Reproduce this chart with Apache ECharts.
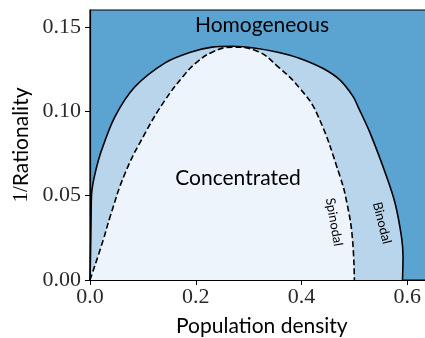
<!DOCTYPE html>
<html>
<head>
<meta charset="utf-8">
<script src="https://cdn.jsdelivr.net/npm/echarts@6/dist/echarts.min.js"></script>
<style>
  html, body { margin: 0; padding: 0; background: #ffffff; }
  #chart { width: 425px; height: 338px; }
</style>
</head>
<body>
<div id="chart"></div>
<script>
// Phase boundary: binodal curve (population density, 1/rationality)
const binodalX = [0.000, 0.001, 0.002, 0.003, 0.0095, 0.022, 0.047, 0.085, 0.142, 0.190, 0.231, 0.270,
                  0.310, 0.355, 0.397, 0.441, 0.473, 0.498, 0.507, 0.530, 0.561, 0.577, 0.589, 0.592, 0.591];
const binodalY = [0.000, 0.015, 0.035, 0.051, 0.063, 0.077, 0.0967, 0.1145, 0.1287, 0.1350, 0.1380, 0.1385,
                  0.1375, 0.1350, 0.1313, 0.1253, 0.1184, 0.1085, 0.1026, 0.0869, 0.0612, 0.0455, 0.0257, 0.0138, 0.000];

// Stability limit: spinodal curve
const spinodalX = [0.000, 0.025, 0.038, 0.066, 0.104, 0.142, 0.177, 0.200, 0.231, 0.269, 0.313, 0.357, 0.397,
                   0.429, 0.473, 0.486, 0.496, 0.500];
const spinodalY = [0.000, 0.0237, 0.0375, 0.063, 0.0869, 0.1066, 0.121, 0.1285, 0.135, 0.138, 0.136, 0.126, 0.1135,
                   0.0987, 0.0612, 0.0454, 0.0256, 0.000];

const xTicks = [0.0, 0.2, 0.4, 0.6];
const yTicks = [0.00, 0.05, 0.10, 0.15];

const colors = {
  homogeneous: '#5ba3d1',
  binodal: '#b9d5eb',
  spinodal: '#edf4fc'
};

const zip = (xs, ys) => xs.map((x, i) => [x, ys[i]]);

const chart = echarts.init(document.getElementById('chart'), null, { renderer: 'canvas' });

const serif = 'Liberation Serif';
const sans = 'Lato';

chart.setOption({
  animation: false,
  grid: {
    left: 90, top: 10, width: 343.7, height: 270,
    containLabel: false, outerBoundsMode: 'none',
    show: true, backgroundColor: colors.homogeneous,
    borderColor: '#000', borderWidth: 1.2
  },
  xAxis: {
    type: 'value', min: 0, max: 0.65,
    name: 'Population density',
    nameLocation: 'middle', nameGap: 36,
    nameTextStyle: { fontFamily: sans, fontSize: 21, color: '#000' },
    axisLine: { show: true, lineStyle: { color: '#000', width: 1.2 } },
    axisTick: { show: true, customValues: xTicks, length: 5, inside: false, lineStyle: { color: '#000', width: 1 } },
    axisLabel: {
      customValues: xTicks, margin: 6,
      fontFamily: serif, fontSize: 22, color: '#2a2a2a',
      formatter: v => v.toFixed(1)
    },
    splitLine: { show: false }
  },
  yAxis: {
    type: 'value', min: 0, max: 0.16,
    name: '{m|1/}{s|Rationality}',
    nameLocation: 'middle', nameGap: 58, nameRotate: 90,
    nameTextStyle: {
      rich: {
        m: { fontFamily: serif, fontSize: 21, color: '#000' },
        s: { fontFamily: sans, fontSize: 21, color: '#000' }
      }
    },
    axisLine: { show: true, lineStyle: { color: '#000', width: 1.2 } },
    axisTick: { show: true, customValues: yTicks, length: 5, lineStyle: { color: '#000', width: 1 } },
    axisLabel: {
      customValues: yTicks, margin: 9,
      fontFamily: serif, fontSize: 22, color: '#2a2a2a',
      formatter: v => v.toFixed(2)
    },
    splitLine: { show: false }
  },
  series: [
    {
      name: 'Binodal',
      type: 'line',
      data: zip(binodalX, binodalY),
      showSymbol: false,
      smooth: 0.3,
      lineStyle: { color: '#000', width: 1.6 },
      areaStyle: { color: colors.binodal, opacity: 1 },
      z: 2
    },
    {
      name: 'Spinodal',
      type: 'line',
      data: zip(spinodalX, spinodalY),
      showSymbol: false,
      smooth: 0.45,
      lineStyle: { color: '#000', width: 1.6, type: [6, 3] },
      areaStyle: { color: colors.spinodal, opacity: 1 },
      z: 3
    }
  ],
  graphic: [
    {
      type: 'text', x: 262, y: 25, z: 10,
      style: { text: 'Homogeneous', fontFamily: sans, fontSize: 21, fill: '#000', align: 'center', verticalAlign: 'middle' }
    },
    {
      type: 'text', x: 238, y: 178, z: 10,
      style: { text: 'Concentrated', fontFamily: sans, fontSize: 21, fill: '#000', align: 'center', verticalAlign: 'middle' }
    },
    {
      type: 'text', x: 334, y: 222, z: 10, rotation: -80 * Math.PI / 180,
      style: { text: 'Spinodal', fontFamily: sans, fontSize: 13, fill: '#000', align: 'center', verticalAlign: 'middle' }
    },
    {
      type: 'text', x: 382, y: 223, z: 10, rotation: -76 * Math.PI / 180,
      style: { text: 'Binodal', fontFamily: sans, fontSize: 13, fill: '#000', align: 'center', verticalAlign: 'middle' }
    }
  ]
});
</script>
</body>
</html>
